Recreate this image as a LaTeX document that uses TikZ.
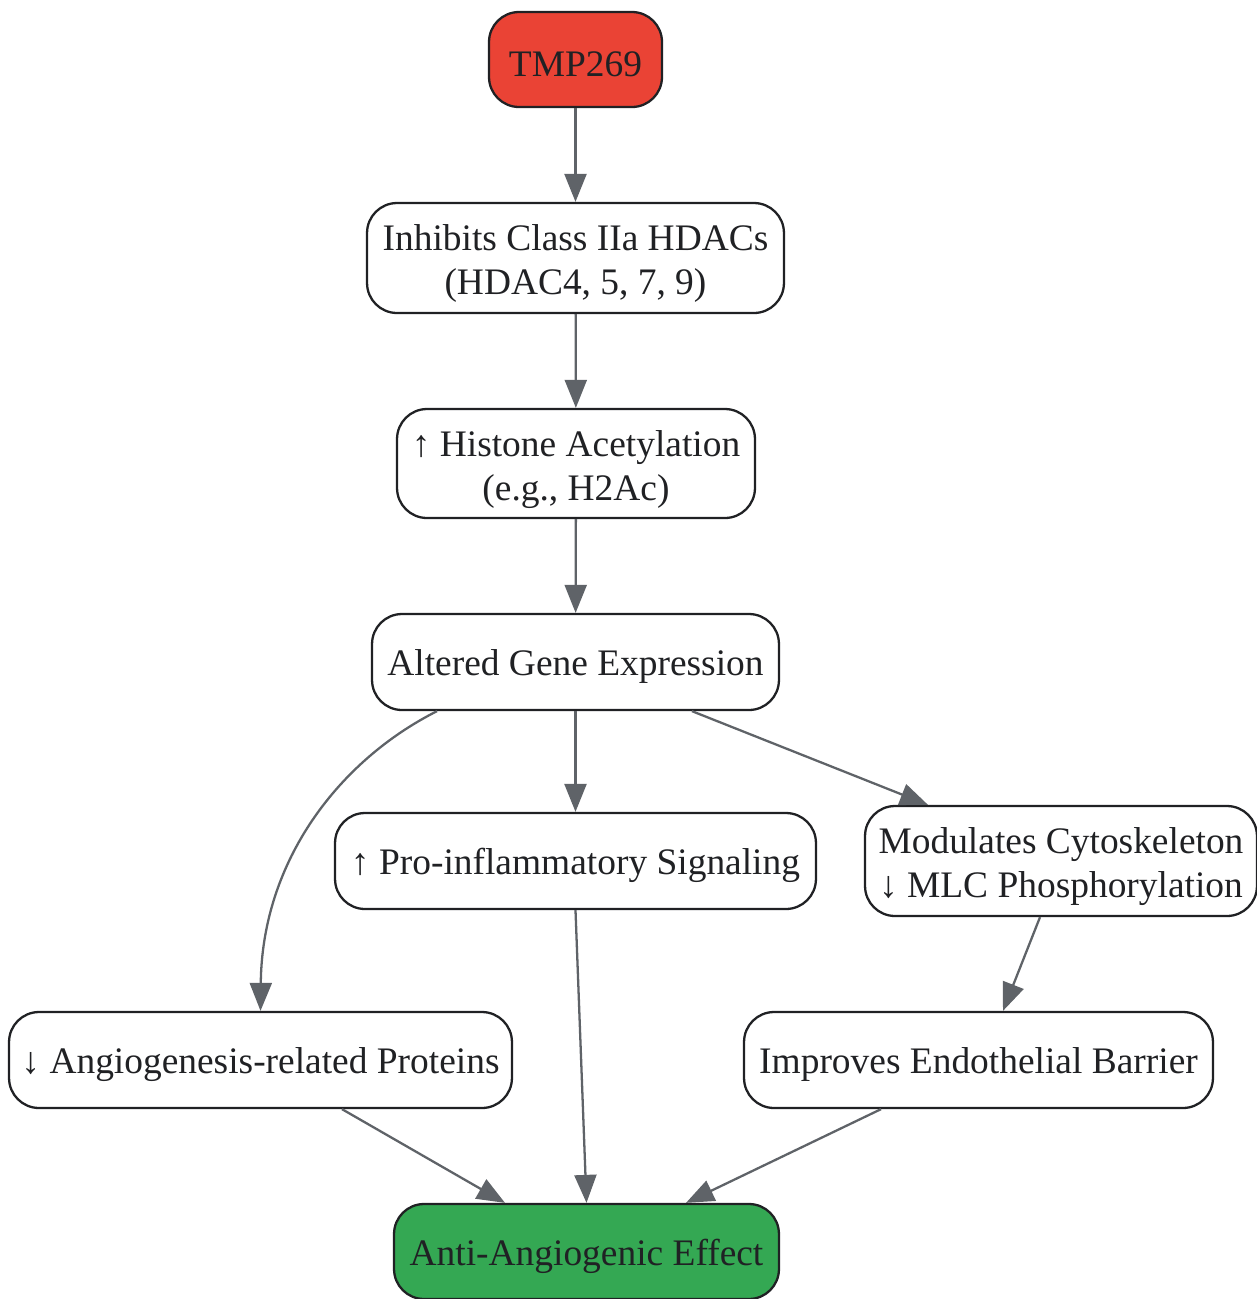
\documentclass[tikz,border=0pt]{standalone}
\usepackage{fontspec}
\setmainfont{Liberation Serif}
\usetikzlibrary{arrows.meta}
\definecolor{tmpred}{HTML}{EA4335}
\definecolor{effgreen}{HTML}{34A853}
\definecolor{edgegray}{HTML}{5F6368}
\definecolor{inkdark}{HTML}{202124}
\newcommand{\upstrut}{\rule{0pt}{21.5pt}}
\tikzset{
	box/.style={draw=inkdark, line width=1.3pt, rounded corners=0.6cm, align=center,
		text=inkdark, font=\fontsize{21.3}{25}\selectfont, inner sep=0pt,
		execute at begin node={\rule{0pt}{20pt}}},
	link/.style={draw=edgegray, line width=1.3pt, -{Triangle[length=0.56cm,width=0.44cm]}}
}

\begin{document}
\begin{tikzpicture}[x=0.02cm, y=-0.02cm]
			%%%%% START %%%%%
			
			\useasboundingbox (0, 0) rectangle (1257, 1299);
			
			\node[box, fill=tmpred, minimum width=3.46cm, minimum height=1.9cm] (tmp) at (575.5, 59.5) {TMP269};
			\node[box, minimum width=8.34cm, minimum height=2.2cm] (hdac) at (575.5, 258) {\upstrut Inhibits Class IIa HDACs\\(HDAC4, 5, 7, 9)};
			\node[box, minimum width=7.16cm, minimum height=2.18cm] (hist) at (576, 463.5) {\upstrut ↑ Histone Acetylation\\(e.g., H2Ac)};
			\node[box, minimum width=8.14cm, minimum height=1.92cm] (alt) at (575.5, 662) {Altered Gene Expression};
			
			\node[box, minimum width=9.62cm, minimum height=1.92cm] (pro) at (575.5, 861) {↑ Pro-inflammatory Signaling};
			\node[box, minimum width=7.84cm, minimum height=2.2cm] (cyto) at (1061, 861) {\upstrut Modulates Cytoskeleton\\↓ MLC Phosphorylation};
			
			\node[box, minimum width=10.06cm, minimum height=1.92cm] (angio) at (260.5, 1060) {↓ Angiogenesis-related Proteins};
			\node[box, minimum width=9.38cm, minimum height=1.92cm] (barrier) at (978.5, 1060) {Improves Endothelial Barrier};
			
			\node[box, fill=effgreen, minimum width=7.7cm, minimum height=1.9cm] (anti) at (586.5, 1251.5) {Anti-Angiogenic Effect};
			
			\draw[link] (tmp) -- (hdac);
			\draw[link] (hdac) -- (hist);
			\draw[link] (hist) -- (alt);
			
			\draw[link] ([xshift=-2.77cm]alt.south) .. controls (340, 760) and (262, 860) .. (angio.north);
			\draw[link] (alt) -- (pro);
			\draw[link] ([xshift=2.33cm]alt.south) -- ([xshift=-2.66cm]cyto.north);
			
			\draw[link] ([xshift=-0.42cm]cyto.south) -- ([xshift=0.49cm]barrier.north);
			
			\draw[link] (pro.south) -- (anti.north);
			\draw[link] ([xshift=1.63cm]angio.south) -- ([xshift=-1.63cm]anti.north);
			\draw[link] ([xshift=-1.95cm]barrier.south) -- ([xshift=1.99cm]anti.north);
			
			%%%%% END %%%%%
\end{tikzpicture}
\end{document}
